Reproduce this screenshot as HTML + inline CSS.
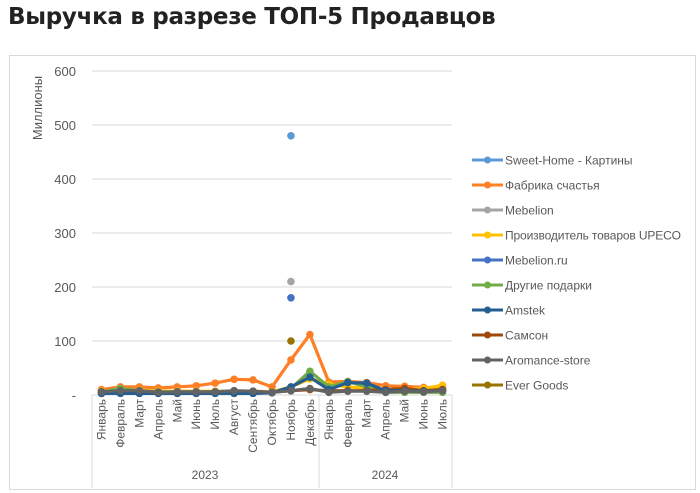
<!DOCTYPE html>
<html><head><meta charset="utf-8"><style>
body{margin:0;background:#fff;width:700px;height:493px;overflow:hidden;font-family:"Liberation Sans","DejaVu Sans",sans-serif}
h1{position:absolute;left:8px;top:4px;margin:0;font-size:23px;font-weight:bold;color:#222;font-family:"DejaVu Sans","Liberation Sans",sans-serif;letter-spacing:-0.3px}
svg{position:absolute;left:0;top:0}
</style></head><body>
<h1>Выручка в разрезе ТОП-5 Продавцов</h1>
<svg id="s" width="700" height="493" font-family="Liberation Sans, DejaVu Sans, sans-serif"></svg>
<script>
const s=document.getElementById('s');let h='';
h+='<rect x="9.5" y="55.5" width="686" height="434" fill="none" stroke="#d9d9d9"/>';
const y0=395,k=0.54,x0=92,st=360/19;
for(let v=0;v<=600;v+=100){const y=y0-v*k;
 if(v>0)h+=`<line x1="92" x2="452" y1="${y}" y2="${y}" stroke="#d9d9d9"/>`;
 h+=`<text x="76" y="${y+5}" text-anchor="end" font-size="13" fill="#595959">${v?v:'-'}</text>`;}
h+=`<line x1="92" x2="452" y1="395" y2="395" stroke="#d9d9d9"/>`;
[92,319,452].forEach(x=>h+=`<line x1="${x}" x2="${x}" y1="395" y2="488" stroke="#d9d9d9"/>`);
h+=`<text transform="translate(42,108) rotate(-90)" text-anchor="middle" font-size="13" fill="#595959">Миллионы</text>`;
const m=['Январь','Февраль','Март','Апрель','Май','Июнь','Июль','Август','Сентябрь','Октябрь','Ноябрь','Декабрь','Январь','Февраль','Март','Апрель','Май','Июнь','Июль'];
const X=i=>x0+st/2+i*st;
m.forEach((t,i)=>h+=`<text transform="translate(${X(i)+4},399) rotate(-90)" text-anchor="end" font-size="12" fill="#595959">${t}</text>`);
h+=`<text x="205" y="479" text-anchor="middle" font-size="12" fill="#595959">2023</text><text x="385" y="479" text-anchor="middle" font-size="12" fill="#595959">2024</text>`;
const S=[
['#5b9bd5','Sweet-Home - Картины',[null,null,null,null,null,null,null,null,null,null,480,null,null,null,null,null,null,null,null]],
['#ff7f27','Фабрика счастья',null],
['#a5a5a5','Mebelion',[null,null,null,null,null,null,null,null,null,null,210,null,null,null,null,null,null,null,null]],
['#ffc000','Производитель товаров UPECO',[7,9,9,7,7,7,7,7,7,6,15,30,20,15,12,10,10,12,18]],
['#4472c4','Mebelion.ru',[null,null,null,null,null,null,null,null,null,null,180,null,null,null,null,null,null,null,null]],
['#70ad47','Другие подарки',[6,12,8,6,6,6,6,6,6,5,12,44,15,25,15,5,5,5,5]],
['#255e91','Amstek',[3,3,3,3,3,3,3,3,3,4,15,33,10,23,22,8,8,7,8]],
['#9e480e','Самсон',[5,6,6,5,5,5,5,6,6,5,8,10,8,8,8,10,12,8,10]],
['#636363','Aromance-store',[6,8,8,5,6,6,6,8,7,5,8,12,5,7,7,5,7,6,8]],
['#997300','Ever Goods',[null,null,null,null,null,null,null,null,null,null,100,null,null,null,null,null,null,null,null]]];
S[1][2]=[10,15,15,13,15,17,22,29,28,15,65,112,24,25,23,17,16,14,12];
const draw=[1,3,5,7,6,8,0,2,4,9];
draw.forEach(j=>{const [c,n,d]=S[j];let p=[];
 d.forEach((v,i)=>{if(v!=null)p.push(`${X(i).toFixed(1)},${(y0-v*k).toFixed(1)}`)});
 if(p.length>1)h+=`<polyline points="${p.join(' ')}" fill="none" stroke="${c}" stroke-width="3.2" stroke-linejoin="round"/>`;
 d.forEach((v,i)=>{if(v!=null)h+=`<circle cx="${X(i)}" cy="${y0-v*k}" r="3.8" fill="${c}"/>`});});
S.forEach(([c,n],i)=>{const y=160+i*25;
 h+=`<line x1="472" x2="503" y1="${y}" y2="${y}" stroke="${c}" stroke-width="3"/><circle cx="487.5" cy="${y}" r="3.5" fill="${c}"/>`;
 h+=`<text x="505" y="${y+4.5}" font-size="12" fill="#595959" textLength="${n.length>25?176:''}">${n}</text>`;});
s.innerHTML=h.replace(/ textLength=""/g,'');
</script>
</body></html>
